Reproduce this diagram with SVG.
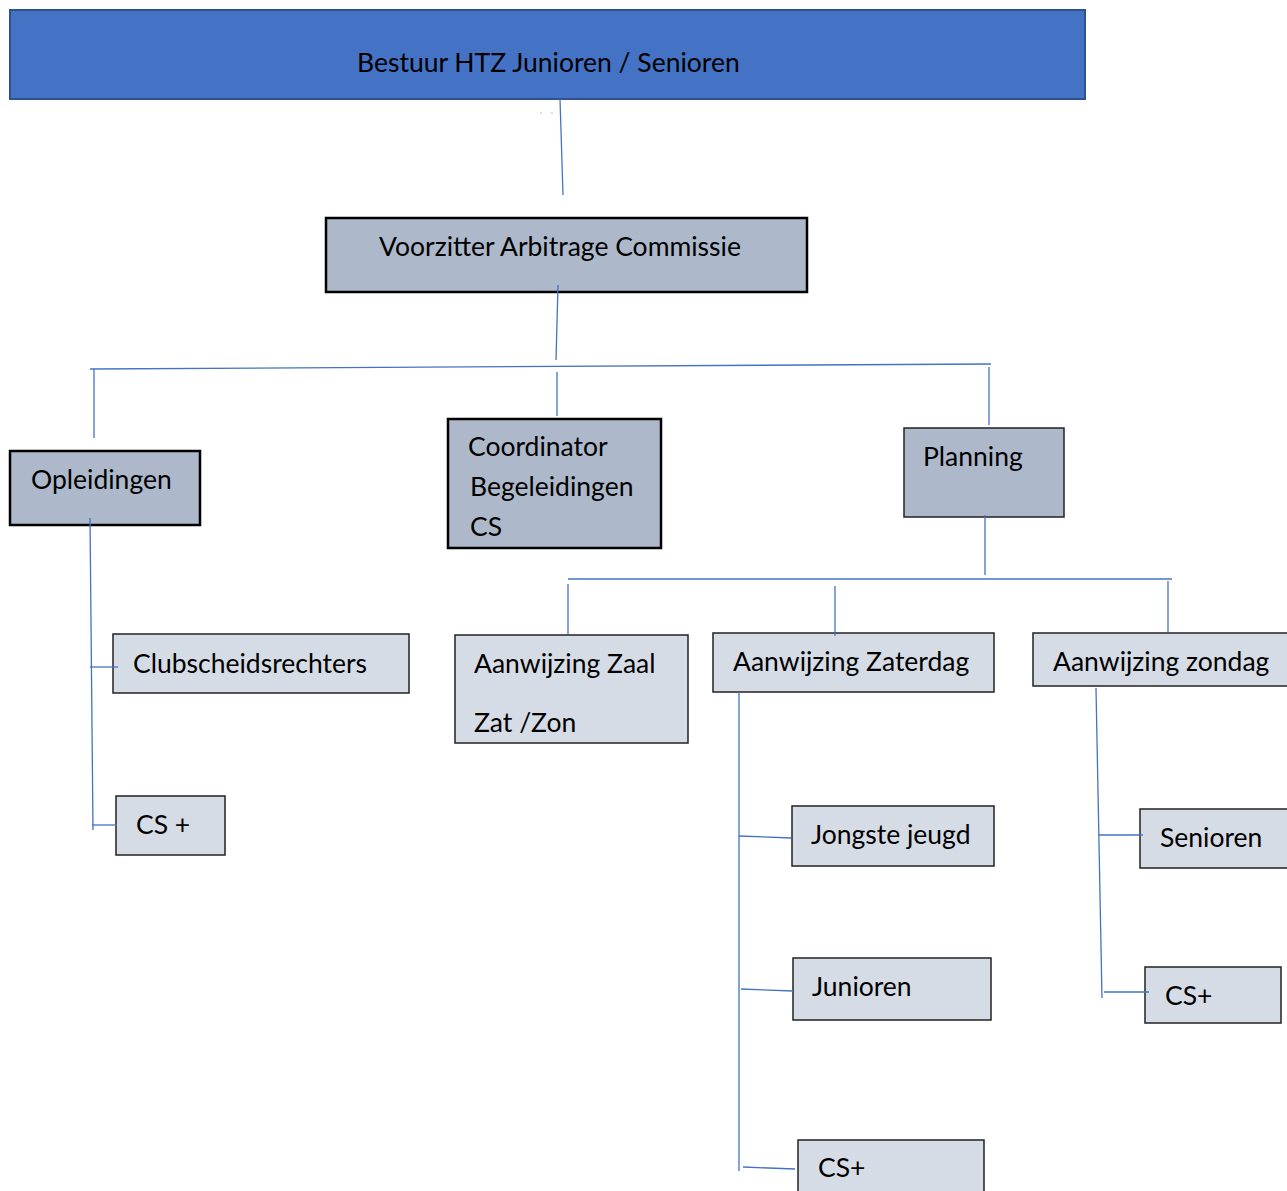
<svg xmlns="http://www.w3.org/2000/svg" width="1287" height="1191" viewBox="0 0 1287 1191">
<style>
text{font-family:Lato,"Liberation Sans",sans-serif;font-size:26.5px;fill:#000}
.top{fill:#4472C4;stroke:#2F528F;stroke-width:2}
.mid{fill:#ADB9CA;stroke:#000;stroke-width:2.5}
.mid2{fill:#ADB9CA;stroke:#222;stroke-width:1.5}
.low{fill:#D6DCE5;stroke:#222;stroke-width:1.5}
.c line{stroke:#4472C4;stroke-width:1.3;fill:none}
</style>
<rect x="0" y="0" width="1287" height="1191" fill="#fff"/>
<g id="bestuur"><rect class="top" x="10" y="10" width="1075" height="89"/><text x="357" y="72">Bestuur HTZ Junioren / Senioren</text></g>
<g id="voorzitter"><rect class="mid" x="326" y="218" width="481" height="74"/><text x="379" y="256">Voorzitter Arbitrage Commissie</text></g>
<g id="opleidingen"><rect class="mid" x="10" y="451" width="190" height="74"/><text x="31" y="489">Opleidingen</text></g>
<g id="coordinator"><rect class="mid" x="448" y="419" width="213" height="129"/><text x="468" y="456">Coordinator</text><text x="470" y="496">Begeleidingen</text><text x="470" y="536">CS</text></g>
<g id="planning"><rect class="mid2" x="904" y="428" width="160" height="89"/><text x="923" y="466">Planning</text></g>
<g id="clubscheidsrechters"><rect class="low" x="113" y="634" width="296" height="59"/><text x="133" y="673">Clubscheidsrechters</text></g>
<g id="csplus1"><rect class="low" x="116" y="796" width="109" height="59"/><text x="136" y="834">CS +</text></g>
<g id="zaal"><rect class="low" x="455" y="635" width="233" height="108"/><text x="474" y="673">Aanwijzing Zaal</text><text x="474" y="732">Zat /Zon</text></g>
<g id="zaterdag"><rect class="low" x="713" y="633" width="281" height="59"/><text x="733" y="671">Aanwijzing Zaterdag</text></g>
<g id="zondag"><rect class="low" x="1033" y="633" width="260" height="53"/><text x="1053" y="671">Aanwijzing zondag</text></g>
<g id="jongste"><rect class="low" x="792" y="806" width="202" height="60"/><text x="811" y="844">Jongste jeugd</text></g>
<g id="junioren"><rect class="low" x="793" y="958" width="198" height="62"/><text x="812" y="996">Junioren</text></g>
<g id="csplus2"><rect class="low" x="798" y="1140" width="186" height="60"/><text x="818" y="1177">CS+</text></g>
<g id="senioren"><rect class="low" x="1140" y="809" width="152" height="59"/><text x="1160" y="847">Senioren</text></g>
<g id="csplus3"><rect class="low" x="1145" y="967" width="136" height="56"/><text x="1165" y="1005">CS+</text></g>
<g class="c" id="connectors">
<line x1="560" y1="99" x2="563" y2="195"/>
<line x1="558" y1="285" x2="556" y2="360"/>
<line x1="90" y1="369" x2="991" y2="364"/>
<line x1="94" y1="369" x2="94" y2="438"/>
<line x1="557" y1="372" x2="557" y2="416"/>
<line x1="989" y1="367" x2="989" y2="425"/>
<line x1="90" y1="518" x2="93" y2="830"/>
<line x1="90" y1="667" x2="118" y2="667"/>
<line x1="92" y1="825" x2="117" y2="825"/>
<line x1="985" y1="515" x2="985" y2="575"/>
<line x1="568" y1="579" x2="1172" y2="579"/>
<line x1="568" y1="584" x2="568" y2="634"/>
<line x1="835" y1="586" x2="835" y2="636"/>
<line x1="1168" y1="581" x2="1168" y2="632"/>
<line x1="739" y1="692" x2="739" y2="1171"/>
<line x1="739" y1="836" x2="791" y2="838"/>
<line x1="741" y1="989" x2="793" y2="991"/>
<line x1="743" y1="1167" x2="795" y2="1169"/>
<line x1="1096" y1="688" x2="1102" y2="998"/>
<line x1="1099" y1="835" x2="1143" y2="835"/>
<line x1="1104" y1="992" x2="1149" y2="992"/>
</g>
<g id="marks" stroke="#aaa" stroke-width="0.8"><line x1="540" y1="113" x2="542" y2="113"/><line x1="551" y1="113" x2="553" y2="113"/></g>
</svg>
